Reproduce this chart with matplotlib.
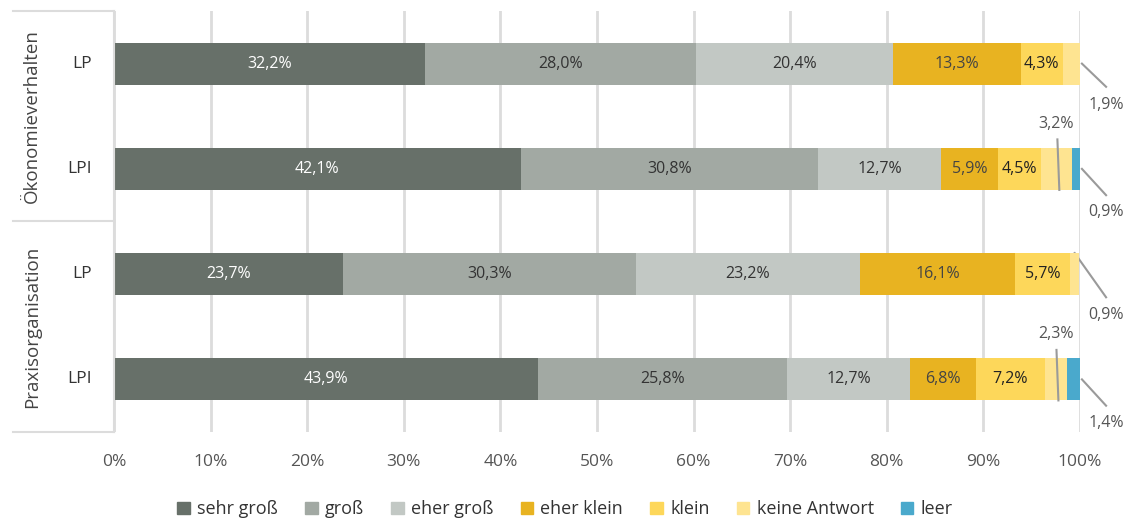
import matplotlib
matplotlib.use("Agg")
import matplotlib.pyplot as plt
import numpy as np
from matplotlib.lines import Line2D
from matplotlib.patches import Patch

plt.rcParams['font.family'] = ['Open Sans', 'DejaVu Sans']

# data (percent), rows top to bottom
groups = ['Ökonomieverhalten', 'Praxisorganisation']
rows = ['LP', 'LPI', 'LP', 'LPI']
series = ['sehr groß', 'groß', 'eher groß', 'eher klein', 'klein', 'keine Antwort', 'leer']
sehr_gross = [32.2, 42.1, 23.7, 43.9]
gross = [28.0, 30.8, 30.3, 25.8]
eher_gross = [20.4, 12.7, 23.2, 12.7]
eher_klein = [13.3, 5.9, 16.1, 6.8]
klein = [4.3, 4.5, 5.7, 7.2]
keine_antwort = [1.9, 3.2, 0.9, 2.3]
leer = [0.0, 0.9, 0.0, 1.4]

values = [sehr_gross, gross, eher_gross, eher_klein, klein, keine_antwort, leer]
colors = ['#677069', '#a2a9a3', '#c2c8c4', '#e8b321', '#fdd75a', '#fee491', '#4aa9cc']
text_colors = ['white', '#333333', '#333333', '#444444', '#222222', '#333333', '#333333']


def pct(v):
    return f'{v:.1f}%'.replace('.', ',')


fig = plt.figure(figsize=(11.3, 5.22), dpi=100)
ax = fig.add_axes([114 / 1130, 90 / 522, 966 / 1130, 421 / 522])

y = np.arange(len(rows))
left = np.zeros(len(rows))
for vals, col, tc in zip(values, colors, text_colors):
    vals = np.array(vals)
    ax.barh(y, vals, left=left, height=0.4, color=col, zorder=3)
    for i, v in enumerate(vals):
        if v >= 4:
            ax.text(left[i] + v / 2, y[i], pct(v), ha='center', va='center',
                    fontsize=11.5, color=tc, zorder=4)
    left = left + vals

# small segments labelled outside with leader lines
ann_color = '#9a9a9a'
lbl_color = '#555555'
for i in range(len(rows)):
    end = sehr_gross[i] + gross[i] + eher_gross[i] + eher_klein[i] + klein[i]
    if leer[i] > 0:
        # keine Antwort above the bar, leer below right
        xm = end + keine_antwort[i] * 0.55
        ax.plot([xm - 0.1, xm + 0.1], [y[i] - 0.28, y[i] + 0.2], color=ann_color, lw=1.5,
                zorder=5, clip_on=False)
        ax.text(xm - 0.2, y[i] - 0.43, pct(keine_antwort[i]), ha='center',
                va='center', fontsize=11.5, color=lbl_color)
        ax.plot([100.2, 102.7], [y[i], y[i] + 0.25], color=ann_color, lw=1.5, clip_on=False)
        ax.text(102.7, y[i] + 0.41, pct(leer[i]), ha='center',
                va='center', fontsize=11.5, color=lbl_color)
    else:
        xs = end + keine_antwort[i] * 0.5 if keine_antwort[i] < 1.5 else 100.2
        ys = y[i] - 0.2 if keine_antwort[i] < 1.5 else y[i]
        ax.plot([xs, 102.7], [ys, y[i] + 0.22], color=ann_color, lw=1.5, clip_on=False)
        ax.text(102.7, y[i] + 0.39, pct(keine_antwort[i]), ha='center',
                va='center', fontsize=11.5, color=lbl_color)

ax.set_xlim(0, 100)
ax.set_ylim(3.5, -0.5)
ax.set_xticks(np.arange(0, 101, 10))
ax.set_xticklabels([f'{t}%' for t in range(0, 101, 10)], fontsize=12.5, color='#555555')
ax.set_yticks([])
ax.tick_params(axis='x', length=0, pad=16)
ax.grid(axis='x', color='#dcdcdc', lw=2, zorder=0)
for s in ax.spines.values():
    s.set_visible(False)

# left label box
box = dict(color='#dcdcdc', lw=1.5, transform=fig.transFigure)


def fx(px):
    return px / 1130


def fy(py):
    return 1 - py / 522


for py in [11, 221, 432]:
    fig.add_artist(Line2D([fx(13), fx(114)], [fy(py), fy(py)], **box))
fig.add_artist(Line2D([fx(114), fx(114)], [fy(11), fy(432)], **box))

for i, r in enumerate(rows):
    ax.text(-2.3, y[i], r, ha='right', va='center', fontsize=12.5, color='#333333')
for g, gi in zip(groups, [0.5, 2.5]):
    ax.text(-8.5, gi, g, ha='center', va='center', rotation=90, fontsize=13.5, color='#444444')

handles = [Patch(color=c) for c in colors]
fig.legend(handles, series, loc='center', bbox_to_anchor=(0.5, 0.024), ncol=7,
           frameon=False, fontsize=13, handlelength=0.7, handleheight=0.7,
           handletextpad=0.4, columnspacing=1.5, labelcolor='#333333')

fig.savefig('out.png', dpi=100)
